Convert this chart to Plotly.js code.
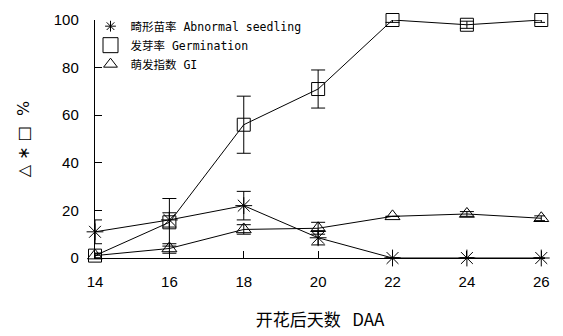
<!DOCTYPE html>
<html><head><meta charset="utf-8">
<script src="https://cdn.plot.ly/plotly-3.0.1.min.js"></script>
<style>body{margin:0;background:#fff}#c{width:563px;height:336px}</style>
</head><body><div id="c"></div>
<script>
const days = [14, 16, 18, 20, 22, 24, 26];
const abnormal = [11, 16, 22, 8.5, 0, 0, 0];
const abnormalErr = [5, 3, 6, 3, 0, 0, 0];
const germination = [1, 15, 56, 71, 100, 98, 100];
const germinationErr = [1, 10, 12, 8, 1, 1.5, 1];
const gi = [1, 4, 12, 12.5, 17.5, 18.5, 16.7];
const giErr = [1, 2, 2, 2.5, 0, 1, 1];
const names = ['畸形苗率 Abnormal seedling', '发芽率 Germination', '萌发指数 GI'];
const xTicks = [14, 16, 18, 20, 22, 24, 26];
const yTicks = [0, 20, 40, 60, 80, 100];

const base = {mode: 'lines+markers', cliponaxis: false, showlegend: false,
  line: {color: '#000', width: 1}};
function errY(a) { return {type: 'data', array: a, visible: true, color: '#000', thickness: 1, width: 7}; }
const traces = [
  Object.assign({}, base, {x: days, y: abnormal, error_y: errY(abnormalErr),
    marker: {symbol: 'asterisk-open', size: 14, color: '#000', line: {color: '#000', width: 1}}}),
  Object.assign({}, base, {x: days, y: germination, error_y: errY(germinationErr),
    marker: {symbol: 'square-open', size: 13, color: '#000', line: {color: '#000', width: 1}}}),
  Object.assign({}, base, {x: days, y: gi, error_y: errY(giErr),
    marker: {symbol: 'triangle-up-open', size: 13, color: '#000', line: {color: '#000', width: 1}}}),
];
const syms = ['asterisk-open', 'square-open', 'triangle-up-open'];
const legSizes = [9, 15, 12];
syms.forEach((s, i) => traces.push({x: [null], y: [null], mode: 'markers', name: names[i], showlegend: true,
  marker: {symbol: s, size: legSizes[i], color: '#000', line: {color: '#000', width: 1}}}));

const layout = {
  width: 563, height: 336,
  margin: {l: 95, r: 18, t: 18, b: 78},
  paper_bgcolor: '#fff', plot_bgcolor: '#fff',
  font: {family: 'Arial, "Liberation Sans", "Noto Sans CJK SC", sans-serif', color: '#000', size: 15},
  xaxis: {range: [14, 26.1], tickvals: xTicks, ticktext: xTicks.map(String), ticks: 'inside', ticklen: 7,
    tickcolor: '#000', showgrid: false, zeroline: false, showline: true, linecolor: '#000', linewidth: 1.2,
    tickfont: {size: 15}, ticklabelstandoff: 10,
    title: {text: '开花后天数   DAA', font: {size: 17, family: '"Noto Sans CJK SC", sans-serif'}, standoff: 24}},
  yaxis: {range: [0, 100], tickvals: yTicks, ticks: 'inside', ticklen: 7, tickcolor: '#000',
    showgrid: false, zeroline: false, showline: true, linecolor: '#000', linewidth: 1.2,
    tickfont: {size: 15}, ticklabelstandoff: 12,
    title: {text: '△ ∗ □  %', font: {size: 16, family: '"DejaVu Sans", sans-serif'}, standoff: 20}},
  legend: {x: -0.01, y: 1.035, xanchor: 'left', yanchor: 'top', bgcolor: 'rgba(0,0,0,0)',
    font: {family: '"DejaVu Sans Mono", "Noto Sans CJK SC", monospace', size: 11.5}, tracegroupgap: 0,
    itemwidth: 30, itemsizing: 'trace'},
  showlegend: true
};
Plotly.newPlot('c', traces, layout, {displayModeBar: false, staticPlot: true});
</script></body></html>
